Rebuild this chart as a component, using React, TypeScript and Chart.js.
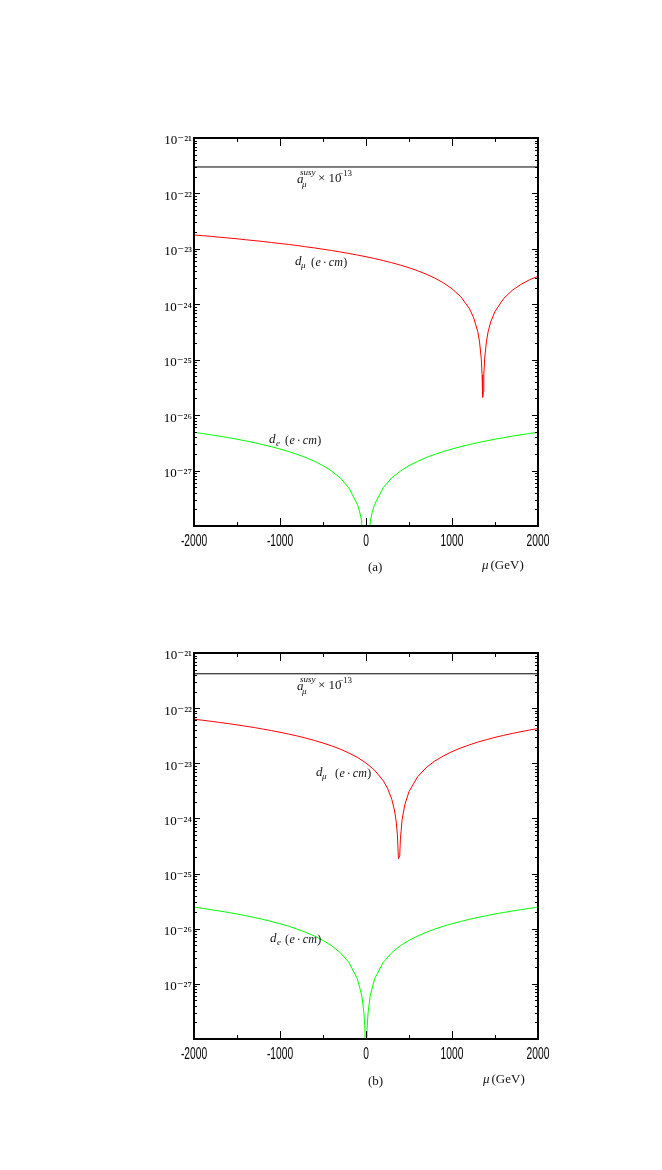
import React, { useEffect, useRef } from 'react';
import { Chart, registerables } from 'chart.js';

Chart.register(...registerables);

// ---------------- data ----------------
// x axis: mu (GeV)
const X_TICKS = [-2000, -1000, 0, 1000, 2000];
const X_MINOR = [-1500, -500, 500, 1500];
// y axis: decades 10^-28 .. 10^-21
const Y_DECADES = [-28, -27, -26, -25, -24, -23, -22, -21];
const Y_LABELLED = [-27, -26, -25, -24, -23, -22, -21];

// panel (a)
const MU_FLAT = [-2000, -1000, 0, 1000, 2000];
const ASUSY_A = [3.0e-22, 3.0e-22, 3.0e-22, 3.0e-22, 3.0e-22];

const MU_DMU_A = [
  -2000, -1900, -1800, -1700, -1600, -1500, -1400, -1300, -1200, -1100, -1000,
  -900, -800, -700, -600, -500, -400, -300, -200, -100, 0,
  100, 200, 300, 400, 500, 600, 700, 800, 900, 1000,
  1100, 1200, 1250, 1300, 1320, 1340, 1350, 1356,
  1365, 1370, 1380, 1400, 1420, 1450, 1500,
  1600, 1700, 1800, 1900, 2000,
];
const DMU_A = [
  1.78e-23, 1.73e-23, 1.68e-23, 1.62e-23, 1.57e-23, 1.52e-23, 1.46e-23, 1.41e-23, 1.36e-23, 1.30e-23, 1.25e-23,
  1.20e-23, 1.15e-23, 1.09e-23, 1.04e-23, 9.86e-24, 9.33e-24, 8.80e-24, 8.27e-24, 7.74e-24, 7.21e-24,
  6.68e-24, 6.15e-24, 5.62e-24, 5.09e-24, 4.56e-24, 4.03e-24, 3.50e-24, 2.97e-24, 2.44e-24, 1.91e-24,
  1.38e-24, 8.5e-25, 5.8e-25, 3.2e-25, 2.1e-25, 1.06e-25, 5.3e-26, 2.1e-26,
  2.65e-26, 5.3e-26, 1.06e-25, 2.1e-25, 3.2e-25, 4.8e-25, 7.4e-25,
  1.27e-24, 1.78e-24, 2.28e-24, 2.76e-24, 3.20e-24,
];

const MU_DE_A = [
  -2000, -1900, -1800, -1700, -1600, -1500, -1400, -1300, -1200, -1100,
  -1000, -900, -800, -700, -600, -500, -400, -300, -200, -100,
  -75, -50, 0, 50, 75,
  100, 200, 300, 400, 500, 600, 700, 800, 900, 1000,
  1100, 1200, 1300, 1400, 1500, 1600, 1700, 1800, 1900, 2000,
];
const DE_A = [
  4.90e-27, 4.66e-27, 4.41e-27, 4.17e-27, 3.92e-27, 3.68e-27, 3.43e-27, 3.19e-27, 2.94e-27, 2.70e-27,
  2.45e-27, 2.21e-27, 1.96e-27, 1.72e-27, 1.47e-27, 1.23e-27, 9.8e-28, 7.4e-28, 4.9e-28, 2.45e-28,
  1.84e-28, 1.23e-28, 1e-31, 1.23e-28, 1.84e-28,
  2.45e-28, 4.9e-28, 7.4e-28, 9.8e-28, 1.23e-27, 1.47e-27, 1.72e-27, 1.96e-27, 2.21e-27, 2.45e-27,
  2.70e-27, 2.94e-27, 3.19e-27, 3.43e-27, 3.68e-27, 3.92e-27, 4.17e-27, 4.41e-27, 4.66e-27, 4.90e-27,
];

// panel (b)
const ASUSY_B = [4.2e-22, 4.2e-22, 4.2e-22, 4.2e-22, 4.2e-22];

const MU_DMU_B = [
  -2000, -1900, -1800, -1700, -1600, -1500, -1400, -1300, -1200, -1100, -1000,
  -900, -800, -700, -600, -500, -400, -300, -200, -100, 0,
  100, 200, 250, 300, 330, 350, 365, 377, 392, 400, 420, 450, 500,
  600, 700, 800, 900, 1000, 1100, 1200, 1300, 1400, 1500, 1600, 1700, 1800, 1900, 2000,
];
const DMU_B = [
  6.29e-23, 6.03e-23, 5.77e-23, 5.50e-23, 5.24e-23, 4.97e-23, 4.71e-23, 4.45e-23, 4.18e-23, 3.92e-23, 3.65e-23,
  3.39e-23, 3.13e-23, 2.86e-23, 2.60e-23, 2.33e-23, 2.07e-23, 1.81e-23, 1.54e-23, 1.28e-23, 1.01e-23,
  7.50e-24, 4.86e-24, 3.54e-24, 2.22e-24, 1.43e-24, 8.98e-25, 5.02e-25, 1.85e-25, 2.1e-25, 4.22e-25, 9.5e-25, 1.74e-24, 3.06e-24,
  5.70e-24, 8.34e-24, 1.10e-23, 1.36e-23, 1.63e-23, 1.89e-23, 2.15e-23, 2.42e-23, 2.68e-23, 2.95e-23, 3.21e-23, 3.47e-23, 3.74e-23, 4.00e-23, 4.27e-23,
];

const MU_DE_B = [
  -2000, -1900, -1800, -1700, -1600, -1500, -1400, -1300, -1200, -1100,
  -1000, -900, -800, -700, -600, -500, -400, -300, -200, -100,
  -50, -25, -12, 0, 12, 25, 50,
  100, 200, 300, 400, 500, 600, 700, 800, 900, 1000,
  1100, 1200, 1300, 1400, 1500, 1600, 1700, 1800, 1900, 2000,
];
const DE_B = [
  2.46e-26, 2.34e-26, 2.21e-26, 2.09e-26, 1.97e-26, 1.85e-26, 1.72e-26, 1.60e-26, 1.48e-26, 1.35e-26,
  1.23e-26, 1.11e-26, 9.84e-27, 8.61e-27, 7.38e-27, 6.15e-27, 4.92e-27, 3.69e-27, 2.46e-27, 1.23e-27,
  6.2e-28, 3.1e-28, 1.5e-28, 1e-31, 1.5e-28, 3.1e-28, 6.2e-28,
  1.23e-27, 2.46e-27, 3.69e-27, 4.92e-27, 6.15e-27, 7.38e-27, 8.61e-27, 9.84e-27, 1.11e-26,
  1.23e-26, 1.35e-26, 1.48e-26, 1.60e-26, 1.72e-26, 1.85e-26, 1.97e-26, 2.09e-26, 2.21e-26, 2.34e-26, 2.46e-26,
];

// ---------------- layout / style ----------------
const W = 662;
const H = 585;
const PLOT_LEFT = 194;
const PLOT_RIGHT = 538;
const XAXIS_H = 40;
const X_LABEL_SQUEEZE = 0.64;
const SERIF = '"Liberation Serif", "DejaVu Serif", serif';
const SANS = '"Liberation Sans", Arimo, sans-serif';

const SUP: Record<string, string> = {
  '-': '\u207B', '0': '\u2070', '1': '\u00B9', '2': '\u00B2', '3': '\u00B3',
  '4': '\u2074', '5': '\u2075', '6': '\u2076', '7': '\u2077', '8': '\u2078', '9': '\u2079',
};

type Piece = [string, boolean, number]; // text, italic, extra gap after
type Note = { x: number; y: number; s: number; pieces: Piece[] };

function ecm(x: number, y: number): Note {
  return {
    x, y, s: 12,
    pieces: [['(', false, 0.5], ['e', true, 2], ['\u00B7', false, 2], ['cm', true, 0.5], [')', false, 0]],
  };
}

function asusy(dy: number): Note[] {
  return [
    { x: 297, y: 183 + dy, s: 13, pieces: [['a', true, 0]] },
    { x: 302, y: 187 + dy, s: 9, pieces: [['\u03BC', true, 0]] },
    { x: 300, y: 175 + dy, s: 9, pieces: [['susy', true, 0]] },
    { x: 318, y: 182 + dy, s: 13, pieces: [['\u00D7 10', false, 0]] },
    { x: 338, y: 176 + dy, s: 9, pieces: [['\u221213', false, 0]] },
  ];
}

const NOTES_A: Note[] = [
  ...asusy(0),
  { x: 295, y: 265, s: 13, pieces: [['d', true, 0]] },
  { x: 301, y: 268, s: 9, pieces: [['\u03BC', true, 0]] },
  ecm(311, 266),
  { x: 269, y: 443, s: 13, pieces: [['d', true, 0]] },
  { x: 276, y: 446, s: 9, pieces: [['e', true, 0]] },
  ecm(285, 444),
  { x: 368, y: 571, s: 13, pieces: [['(a)', false, 0]] },
  { x: 482, y: 569, s: 13, pieces: [['\u03BC', true, 2], ['(GeV)', false, 0]] },
];

const NOTES_B: Note[] = [
  ...asusy(507),
  { x: 316, y: 776, s: 13, pieces: [['d', true, 0]] },
  { x: 322, y: 779, s: 9, pieces: [['\u03BC', true, 0]] },
  ecm(335, 777),
  { x: 270, y: 942, s: 13, pieces: [['d', true, 0]] },
  { x: 277, y: 945, s: 9, pieces: [['e', true, 0]] },
  ecm(285, 943),
  { x: 368, y: 1085, s: 13, pieces: [['(b)', false, 0]] },
  { x: 483, y: 1083, s: 13, pieces: [['\u03BC', true, 2], ['(GeV)', false, 0]] },
];

type Series = { xs: number[]; ys: number[]; color: string };

type PanelProps = {
  offset: number;
  plotTop: number;
  plotBottom: number;
  series: Series[];
  notes: Note[];
};

// draw the x tick labels horizontally condensed (like the reference's narrow font)
function condenseLabels(s: any) {
  if (s.__condensed) return;
  s.__condensed = true;
  const orig = s.drawLabels;
  s._computeLabelArea = () => undefined; // no clip (the clip rect would be squeezed too)
  s.drawLabels = function (area: any) {
    const items = this.getLabelItems(area);
    const saved = items.map((it: any) => it.options.translation);
    items.forEach((it: any) => {
      const t = it.options.translation;
      it.options.translation = [t[0] / X_LABEL_SQUEEZE, t[1]];
    });
    const ctx = this.ctx;
    ctx.save();
    ctx.scale(X_LABEL_SQUEEZE, 1);
    orig.call(this, area);
    ctx.restore();
    items.forEach((it: any, i: number) => { it.options.translation = saved[i]; });
  };
}

function Panel({ offset, plotTop, plotBottom, series, notes }: PanelProps) {
  const ref = useRef<HTMLCanvasElement | null>(null);

  useEffect(() => {
    const canvas = ref.current;
    if (!canvas) return;

    const deco = {
      id: 'deco',
      afterDatasetsDraw(chart: any) {
        const { ctx, chartArea: a, scales } = chart;
        const x = scales.x;
        const y = scales.y;
        ctx.save();
        ctx.strokeStyle = '#000';
        ctx.lineWidth = 1;
        ctx.beginPath();
        for (const v of X_TICKS) {
          const px = Math.round(x.getPixelForValue(v)) + 0.5;
          ctx.moveTo(px, a.bottom); ctx.lineTo(px, a.bottom - 8);
          ctx.moveTo(px, a.top); ctx.lineTo(px, a.top + 8);
        }
        for (const v of X_MINOR) {
          const px = Math.round(x.getPixelForValue(v)) + 0.5;
          ctx.moveTo(px, a.bottom); ctx.lineTo(px, a.bottom - 4);
          ctx.moveTo(px, a.top); ctx.lineTo(px, a.top + 4);
        }
        for (const e of Y_DECADES) {
          for (let m = 1; m <= 9; m++) {
            if (e === -21 && m > 1) continue;
            const v = m * Math.pow(10, e);
            const py = Math.round(y.getPixelForValue(v)) + 0.5;
            const len = m === 1 ? 6 : 3;
            ctx.moveTo(a.left, py); ctx.lineTo(a.left + len, py);
            ctx.moveTo(a.right, py); ctx.lineTo(a.right - len, py);
          }
        }
        ctx.stroke();
        ctx.lineWidth = 2;
        ctx.strokeRect(a.left, a.top, a.right - a.left, a.bottom - a.top);

        ctx.fillStyle = '#111';
        ctx.textBaseline = 'alphabetic';
        ctx.textAlign = 'left';
        for (const n of notes) {
          let cx = n.x;
          for (const [t, it, gap] of n.pieces) {
            ctx.font = `${it ? 'italic ' : ''}${n.s}px ${SERIF}`;
            ctx.fillText(t, cx, n.y - offset);
            cx += ctx.measureText(t).width + gap;
          }
        }
        ctx.restore();
      },
    };

    const chart = new Chart(canvas, {
      type: 'line',
      data: {
        datasets: series.map((s) => ({
          data: s.xs.map((xv, i) => ({ x: xv, y: s.ys[i] })),
          borderColor: s.color,
          borderWidth: 1,
          pointRadius: 0,
          fill: false,
          tension: 0,
        })),
      },
      options: {
        responsive: false,
        animation: false,
        devicePixelRatio: 1,
        layout: {
          padding: { left: 0, right: W - PLOT_RIGHT, top: plotTop, bottom: H - plotBottom - XAXIS_H },
        },
        plugins: { legend: { display: false }, tooltip: { enabled: false } },
        scales: {
          x: {
            type: 'linear',
            min: -2000,
            max: 2000,
            afterFit: (s: any) => { s.height = XAXIS_H; condenseLabels(s); },
            afterBuildTicks: (s: any) => { s.ticks = X_TICKS.map((v) => ({ value: v })); },
            grid: { display: false, drawTicks: false },
            border: { display: false },
            ticks: {
              autoSkip: false,
              maxRotation: 0,
              padding: 6,
              color: '#000',
              font: { family: SANS, size: 16 },
              callback: (v: any) => String(v),
            },
          },
          y: {
            type: 'logarithmic',
            min: 1e-28,
            max: 1e-21,
            afterFit: (s: any) => { s.width = PLOT_LEFT; },
            afterBuildTicks: (s: any) => { s.ticks = Y_DECADES.map((e) => ({ value: Math.pow(10, e) })); },
            grid: { display: false, drawTicks: false },
            border: { display: false },
            ticks: {
              autoSkip: false,
              padding: 2,
              labelOffset: 3,
              color: '#000',
              font: { family: SERIF, size: 13 },
              callback: (v: any) => {
                const e = Math.round(Math.log10(Number(v)));
                if (!Y_LABELLED.includes(e)) return '';
                return '10' + String(e).split('').map((c) => SUP[c]).join('');
              },
            },
          },
        },
      },
      plugins: [deco],
    } as any);

    return () => chart.destroy();
  }, [offset, plotTop, plotBottom, series, notes]);

  return (
    <canvas
      ref={ref}
      width={W}
      height={H}
      style={{ position: 'absolute', left: 0, top: offset, width: W, height: H }}
    />
  );
}

const SERIES_A: Series[] = [
  { xs: MU_FLAT, ys: ASUSY_A, color: '#000000' },
  { xs: MU_DMU_A, ys: DMU_A, color: '#ff0000' },
  { xs: MU_DE_A, ys: DE_A, color: '#00ff00' },
];
const SERIES_B: Series[] = [
  { xs: MU_FLAT, ys: ASUSY_B, color: '#000000' },
  { xs: MU_DMU_B, ys: DMU_B, color: '#ff0000' },
  { xs: MU_DE_B, ys: DE_B, color: '#00ff00' },
];

export default function App() {
  return (
    <div style={{ position: 'absolute', left: 0, top: 0, width: 662, height: 1170, background: '#fff' }}>
      <Panel offset={0} plotTop={138} plotBottom={526} series={SERIES_A} notes={NOTES_A} />
      <Panel offset={585} plotTop={68} plotBottom={454} series={SERIES_B} notes={NOTES_B} />
    </div>
  );
}
